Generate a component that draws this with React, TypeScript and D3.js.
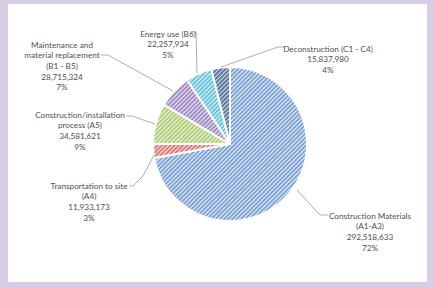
import React, {useEffect, useRef} from 'react'
import * as d3 from 'd3'

const W = 433
const H = 288

// chart data
const categories = [
  'Construction Materials (A1-A3)',
  'Transportation to site (A4)',
  'Construction/installation process (A5)',
  'Maintenance and material replacement (B1 - B5)',
  'Energy use (B6)',
  'Deconstruction (C1 - C4)',
]
const values = [292518633, 11933173, 34581621, 28715324, 22257934, 15837980]
const percentLabels = ['72%', '3%', '9%', '7%', '5%', '4%']
// label text split into lines (name part only)
const labelLines = [
  ['Construction Materials', '(A1-A3)'],
  ['Transportation to site', '(A4)'],
  ['Construction/installation', 'process (A5)'],
  ['Maintenance and', 'material replacement', '(B1 - B5)'],
  ['Energy use (B6)'],
  ['Deconstruction (C1 - C4)'],
]

const lineColors = ['#6c96ce', '#d66a66', '#a6c566', '#937dbd', '#55bad7', '#41638d']
const bgColors = ['#e4ecf7', '#f7dfde', '#eff5e1', '#e9e3f1', '#def2f8', '#d0dae7']

// label layout: text block centre x, first line y, leader line points
const labelLayout = [
  {x: 370, y: 216, leader: [[297, 190], [320, 215], [328, 215]]},
  {x: 89, y: 186, leader: [[154, 155], [143, 176], [133, 186], [130, 186]]},
  {x: 80, y: 115, leader: [[155, 124], [132, 116], [126, 116]]},
  {x: 62, y: 45, leader: [[173, 91], [108, 55], [101, 55]]},
  {x: 168, y: 34, leader: [[197, 73], [196, 32], [192, 32]]},
  {x: 328, y: 49, leader: [[221, 67], [278, 47], [285, 47]]},
]

const cx = 230
const cy = 144
const radius = 77
const lineH = 10.6
const fontSize = 8.2

const App = () => {
  const ref = useRef<SVGSVGElement>(null)

  useEffect(() => {
    const svg = d3.select(ref.current)
    svg.selectAll('*').remove()

    svg.append('rect').attr('width', W).attr('height', H).attr('fill', '#d7cee5')
    svg.append('rect').attr('x', 8).attr('y', 4).attr('width', 419).attr('height', 278).attr('fill', '#ffffff')

    const defs = svg.append('defs')
    lineColors.forEach((c, i) => {
      const p = defs.append('pattern')
        .attr('id', 'hatch' + i)
        .attr('patternUnits', 'userSpaceOnUse')
        .attr('width', 3)
        .attr('height', 3)
        .attr('patternTransform', 'rotate(45)')
      p.append('rect').attr('width', 3).attr('height', 3).attr('fill', bgColors[i])
      p.append('rect').attr('width', 1.6).attr('height', 3).attr('fill', c)
    })

    const pie = d3.pie<number>().sort(null).value(d => d)
    const arcs = pie(values)
    const arc = d3.arc<d3.PieArcDatum<number>>().innerRadius(0).outerRadius(radius)

    const g = svg.append('g').attr('transform', `translate(${cx},${cy})`)
    g.selectAll('path')
      .data(arcs)
      .enter()
      .append('path')
      .attr('d', arc)
      .attr('fill', (d, i) => `url(#hatch${i})`)
      .attr('stroke', '#ffffff')
      .attr('stroke-width', 2)
      .attr('stroke-linejoin', 'round')

    // leader lines
    const line = d3.line()
    labelLayout.forEach(l => {
      svg.append('path')
        .attr('d', line(l.leader as [number, number][]))
        .attr('fill', 'none')
        .attr('stroke', '#9a9a9a')
        .attr('stroke-width', 0.8)
    })

    // labels
    categories.forEach((cat, i) => {
      const lines = [...labelLines[i], d3.format(',')(values[i]), percentLabels[i]]
      const t = svg.append('text')
        .attr('text-anchor', 'middle')
        .attr('font-family', 'Lato, "Open Sans", sans-serif')
        .attr('font-size', fontSize)
        .attr('fill', '#505050')
      t.append('title').text(cat)
      lines.forEach((s, j) => {
        t.append('tspan')
          .attr('x', labelLayout[i].x)
          .attr('y', labelLayout[i].y + j * lineH)
          .attr('dy', '0.35em')
          .text(s)
      })
    })
  }, [])

  return (
    <svg ref={ref} width={W} height={H} style={{position: 'absolute', left: 0, top: 0}} />
  )
}

export default App
